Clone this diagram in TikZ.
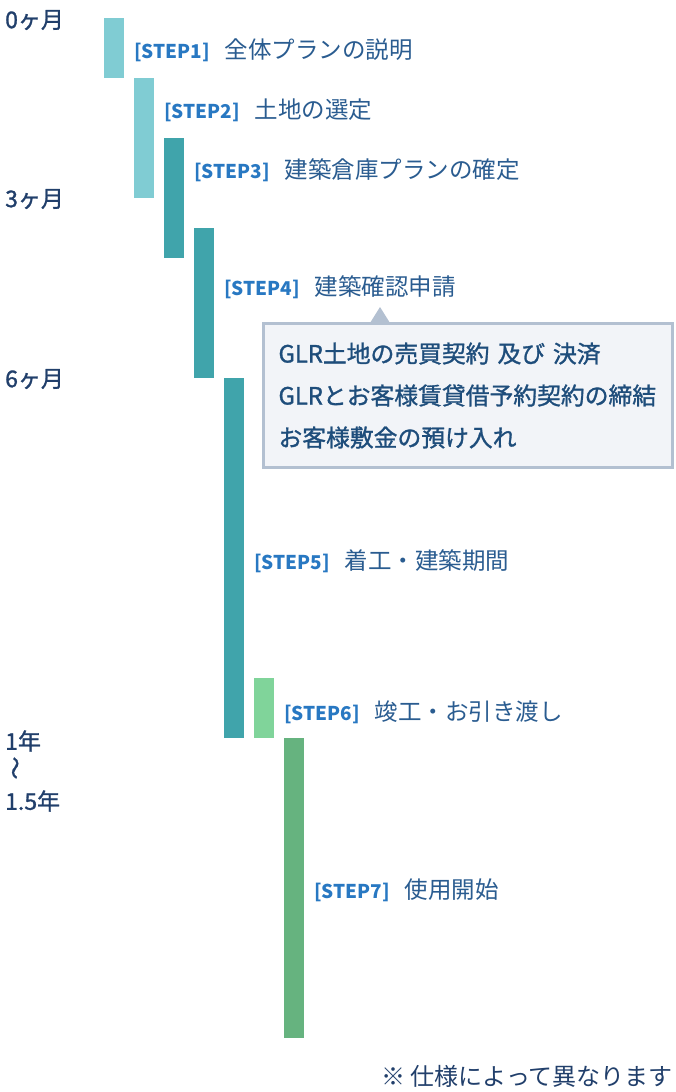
\documentclass[tikz,border=0pt]{standalone}
\usepackage{fontspec}
\setmainfont{Noto Sans CJK JP}
\newfontfamily\jpmid[FakeBold=1.2]{Noto Sans CJK JP}
\usetikzlibrary{positioning}
\definecolor{barlight}{HTML}{80CCD3}
\definecolor{barteal}{HTML}{40A4AB}
\definecolor{barmint}{HTML}{80D49A}
\definecolor{bargreen}{HTML}{66B37F}
\definecolor{stepblue}{HTML}{2878C2}
\definecolor{steptext}{HTML}{2A5C90}
\definecolor{monthnavy}{HTML}{213F6B}
\definecolor{noteline}{HTML}{B3C0D1}
\definecolor{notefill}{HTML}{F2F4F8}
\definecolor{notetext}{HTML}{1E4D7B}
\newcommand{\steptag}[1]{{\bfseries\fontsize{19}{24}\selectfont\color{stepblue}[STEP#1]}\hspace{15pt}}

\begin{document}
\begin{tikzpicture}[x=1pt,y=-1pt,
    bar/.style={fill=#1,inner sep=0pt,outer sep=0pt,minimum width=20pt,anchor=north west},
    step label/.style={anchor=west,inner sep=0pt,text=steptext,font=\fontsize{23.5}{26}\selectfont},
    month/.style={anchor=west,inner sep=0pt,text=monthnavy,font=\jpmid\fontsize{23}{26}\selectfont},
    note box/.style={draw=noteline,line width=3pt,fill=notefill,inner xsep=15pt,
      text width=379pt,minimum height=144pt,align=left,text=notetext,
      font=\jpmid\fontsize{23.8}{42}\selectfont}]
  \useasboundingbox (0,0) rectangle (675,1092);
  % months
  \node[month] (m0) at (5,20) {0ヶ月};
  \node[month] (m3) at (5,199) {3ヶ月};
  \node[month] (m6) at (5,379) {6ヶ月};
  \node[month] (y1) at (5,741) {1年};
  \node[month, rotate=90, anchor=center] (wave) at (18,768) {〜};
  \node[month] (y15) at (5,801) {1.5年};
  % bars
  \node[bar=barlight, minimum height=60pt] (b1) at (104,18) {};
  \node[bar=barlight, minimum height=120pt] (b2) at (134,78) {};
  \node[bar=barteal, minimum height=120pt] (b3) at (164,138) {};
  \node[bar=barteal, minimum height=150pt] (b4) at (194,228) {};
  \node[bar=barteal, minimum height=360pt] (b5) at (224,378) {};
  \node[bar=barmint, minimum height=60pt] (b6) at (254,678) {};
  \node[bar=bargreen, minimum height=300pt] (b7) at (284,738) {};
  % labels
  \node[step label] (l1) at (134,50) {\steptag{1}全体プランの説明};
  \node[step label] (l2) at (164,110) {\steptag{2}土地の選定};
  \node[step label] (l3) at (194,170) {\steptag{3}建築倉庫プランの確定};
  \node[step label] (l4) at (224,287) {\steptag{4}建築確認申請};
  \node[step label] (l5) at (254,561) {\steptag{5}着工・建築期間};
  \node[step label] (l6) at (284,712) {\steptag{6}竣工・お引き渡し};
  \node[step label] (l7) at (314,890) {\steptag{7}使用開始};
  % callout
  \node[note box, anchor=north west] (note) at (262,322)
    {GLR土地の売買契約 及び 決済\\GLRとお客様賃貸借予約契約の締結\\お客様敷金の預け入れ};
  \fill[noteline] ([xshift=108pt,yshift=-1pt]note.north west) -- ++(10,-16) -- ++(10,16) -- cycle;
  \node[anchor=east, inner sep=0pt, text=monthnavy, font=\fontsize{24}{26}\selectfont] (remark) at (673,1076) {※ 仕様によって異なります};
\end{tikzpicture}
\end{document}
